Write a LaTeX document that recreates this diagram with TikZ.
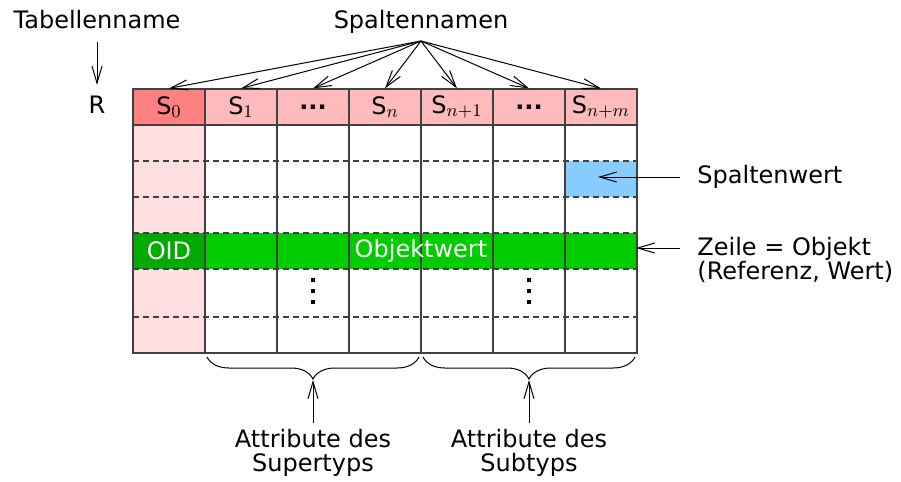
\documentclass[tikz,border=0pt]{standalone}
\usepackage{fontspec}
\setmainfont{DejaVu Sans}
\DeclareMathSizes{12}{12}{9.5}{7}
\usetikzlibrary{decorations.pathreplacing,arrows.meta}
\definecolor{hdrpink}{HTML}{FFBBBB}
\definecolor{hdrdark}{HTML}{FF8080}
\definecolor{colpink}{HTML}{FFDFDF}
\definecolor{rowgreen}{HTML}{00CC00}
\definecolor{oidgreen}{HTML}{00AA00}
\definecolor{cellblue}{HTML}{88CCFF}
\definecolor{gridgray}{HTML}{404040}
\tikzset{
  hdr/.style={draw=gridgray, line width=0.6pt, fill=hdrpink, minimum width=36pt, minimum height=18pt, inner sep=0pt},
  lbl/.style={inner sep=0pt},
  arr/.style={-{Straight Barb[length=8.5pt, width=5pt]}, line width=0.5pt},
  grid/.style={draw=gridgray, line width=0.6pt},
  dgrid/.style={draw=gridgray, line width=0.55pt, dash pattern=on 3pt off 2pt},
  bracestyle/.style={draw, line width=0.5pt, decorate, decoration={brace, mirror, amplitude=11pt}},
}
\begin{document}
\begin{tikzpicture}[x=0.5pt, y=-0.5pt, font=\fontsize{12}{12}\selectfont]
\useasboundingbox (0,0) rectangle (901,482);
% fills
\fill[colpink] (133,125) rectangle (205,353);
\fill[cellblue] (565,161) rectangle (637,197);
\fill[rowgreen] (133,233) rectangle (637,269);
\fill[oidgreen] (133,233) rectangle (205,269);
% header
\node[hdr, fill=hdrdark] (h0) at (169,107) {S$_0$};
\node[hdr] (h1) at (241,107) {S$_1$};
\node[hdr] (h2) at (313,107) {\textbf{...}};
\node[hdr] (h3) at (385,107) {S$_n$};
\node[hdr] (h4) at (457,107) {S$_{n+1}$};
\node[hdr] (h5) at (529,107) {\textbf{...}};
\node[hdr] (h6) at (601,107) {S$_{n+m}$};
% dashed rows
\foreach \yy in {161,197,233,269,317}
  \draw[dgrid] (133,\yy) -- (637,\yy);
% verticals
\foreach \xx in {205,277,349,421,493,565}
  \draw[grid] (\xx,125) -- (\xx,353);
\draw[grid] (133,125) rectangle (637,353);
% texts in the green row
\node[lbl, text=white] (oid) at (169,251) {OID};
\node[lbl, text=white] (ow) at (421,251) {Objektwert};
% vdots
\foreach \xx in {313,529}
  \foreach \yy in {280,291,302}
    \fill (\xx-2,\yy-2) rectangle (\xx+2,\yy+2);
% top labels
\node[lbl, anchor=base] (tab) at (97,28) {Tabellenname};
\node[lbl] (R) at (97,105) {R};
\draw[arr, shorten <=6.5pt, shorten >=5.5pt] (tab.south) -- (R.north);
\node[lbl, anchor=base] (sn) at (421,28) {Spaltennamen};
\coordinate (spx) at (421,41);
\foreach \h in {h0,h1,h2,h3,h4,h5,h6}
  \draw[arr] (spx) -- (\h.north);
% right labels
\node[lbl, anchor=west] (sw) at (697,177) {Spaltenwert};
\coordinate (swtip) at (598,177);
\draw[arr] ([xshift=-8.5pt]sw.west) -- (swtip);
\node[lbl, anchor=west, align=left] (zl) at (697,260) {Zeile = Objekt\\(Referenz, Wert)};
\coordinate (zltip) at (636,248);
\draw[arr] ([xshift=-8.5pt]zl.west |- zltip) -- (zltip);
% braces
\draw[bracestyle] (207,357) -- (419,357);
\draw[bracestyle] (423,357) -- (635,357);
\coordinate (b1) at (313,380);
\coordinate (b2) at (529,380);
\node[lbl, anchor=north, align=center] (a1) at (313,429) {Attribute des\\Supertyps};
\node[lbl, anchor=north, align=center] (a2) at (529,429) {Attribute des\\Subtyps};
\draw[arr, shorten <=3pt] (a1.north) -- (b1);
\draw[arr, shorten <=3pt] (a2.north) -- (b2);
\end{tikzpicture}
\end{document}
